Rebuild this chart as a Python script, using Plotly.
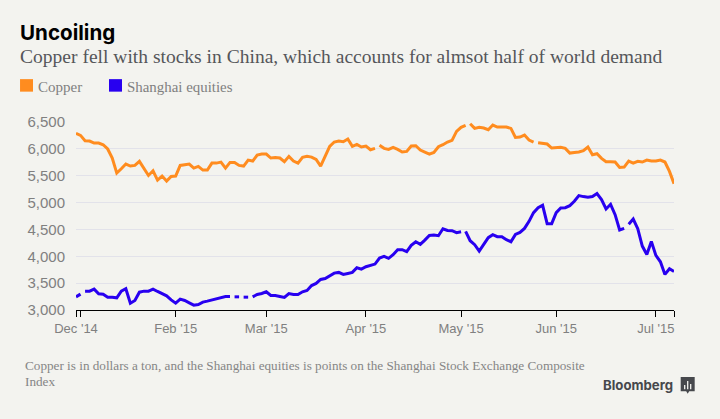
import plotly.graph_objects as go

tick_idx = [0, 1, 22, 42, 64, 85, 106, 128, 132]
tick_text = ["Dec '14", "", "Feb '15", "Mar '15", "Apr '15", "May '15", "Jun '15", "Jul '15", ""]
y_ticks = [3000, 3500, 4000, 4500, 5000, 5500, 6000, 6500]

copper = [6289, 6251, 6152, 6146, 6108, 6108, 6077, 5997, 5829, 5549, 5630, 5717, 5680, 5692, 5767, 5642,
          5505, 5592, 5418, 5493, 5400, 5487, 5493, 5692, 5698, 5717, 5642, 5673, 5605, 5605, 5735, 5735,
          5754, 5642, 5748, 5748, 5692, 5680, 5791, 5773, 5885, 5903, 5903, 5829, 5841, 5829, 5760, 5860,
          5773, 5735, 5841, 5860, 5847, 5804, 5680, 5860, 6046, 6127, 6146, 6133, 6183, 6046, 6084, 6034,
          6053, 5984, 6009, 6065, 6009, 5990, 6028, 5990, 5941, 5953, 6053, 6059, 5978, 5941, 5903, 5934,
          6040, 6077, 6127, 6158, 6325, 6400, 6437, 6468, 6381, 6400, 6388, 6357, 6444, 6406, 6406, 6406,
          6381, 6213, 6219, 6257, 6164, 6127, 6114, 6102, 6090, 6015, 6028, 6028, 6009, 5922, 5934, 5941,
          5966, 6034, 5891, 5910, 5823, 5761, 5761, 5755, 5655, 5661, 5773, 5736, 5767, 5755, 5792, 5773,
          5773, 5792, 5755, 5581, 5351]
shanghai = [3245, 3295, 3351, 3351, 3388, 3301, 3295, 3239, 3239, 3227, 3351, 3395, 3127, 3177, 3332, 3351,
            3351, 3388, 3345, 3307, 3264, 3189, 3127, 3202, 3177, 3134, 3090, 3102, 3146, 3165, 3183, 3208,
            3227, 3251, 3251, 3245, 3245, 3239, 3239, 3245, 3289, 3307, 3339, 3270, 3270, 3251, 3233, 3307,
            3289, 3289, 3339, 3363, 3456, 3494, 3569, 3587, 3631, 3687, 3700, 3662, 3681, 3700, 3787, 3762,
            3805, 3824, 3855, 3967, 3998, 3961, 4029, 4122, 4122, 4085, 4203, 4271, 4222, 4302, 4389, 4395,
            4383, 4513, 4482, 4476, 4439, 4457, 4464, 4290, 4215, 4097, 4222, 4346, 4402, 4364, 4364, 4308,
            4271, 4408, 4445, 4519, 4650, 4812, 4905, 4949, 4607, 4607, 4812, 4899, 4905, 4943, 5024, 5130,
            5111, 5099, 5111, 5167, 5055, 4881, 4968, 4775, 4489, 4520, 4595, 4694, 4514, 4190, 4035, 4277,
            4016, 3898, 3662, 3768, 3718]

copper_breaks = [66, 86, 101]
shanghai_breaks = [1, 34, 36, 38, 85, 121]


def with_gaps(values, breaks):
    xs, ys = [], []
    for i, v in enumerate(values):
        xs.append(i)
        ys.append(v)
        if i in breaks:
            xs.append(i + 0.5)
            ys.append(None)
    return xs, ys


TXT = "#808080"
SERIF = "Liberation Serif"
SANS = "Liberation Sans"
W, H = 720, 419
L, R, T, B = 76, 674.3, 122.3, 310


def px(x):
    return (x - L) / (R - L)


def py(y):
    return (B - y) / (B - T)


fig = go.Figure()
for name, vals, brk, col in [("Copper", copper, copper_breaks, "#ff8c1f"),
                             ("Shanghai equities", shanghai, shanghai_breaks, "#2800f0")]:
    xs, ys = with_gaps(vals, brk)
    fig.add_trace(go.Scatter(x=xs, y=ys, mode="lines", name=name, showlegend=False,
                             connectgaps=False, cliponaxis=False,
                             line=dict(color=col, width=3, shape="linear"),
                             hoverinfo="skip"))

notes = [
    (20, 33, "<b>Uncoiling</b>", 20.6, "#000000", "Inter"),
    (20, 57, "Copper fell with stocks in China, which accounts for almsot half of world demand", 19.55, "#55565a", SERIF),
    (38, 87, "Copper", 15, TXT, SERIF),
    (127, 87, "Shanghai equities", 14.9, TXT, SERIF),
    (25, 365, "Copper is in dollars a ton, and the Shanghai equities is points on the Shanghai Stock Exchange Composite", 13.2, "#858585", SERIF),
    (25, 381, "Index", 13.2, "#858585", SERIF),
    (603, 385, "<b>Bloomberg</b>", 13.2, "#46484c", "Inter"),
]
anns = [dict(x=px(x), y=py(y), xref="paper", yref="paper", text=t, showarrow=False,
             xanchor="left", yanchor="middle", align="left", xshift=-2,
             font=dict(size=s, color=c, family=f)) for x, y, t, s, c, f in notes]

shapes = [
    dict(type="rect", xref="paper", yref="paper", x0=px(20), x1=px(33), y0=py(92), y1=py(79.5),
         fillcolor="#ff8c1f", line_width=0),
    dict(type="rect", xref="paper", yref="paper", x0=px(109), x1=px(122), y0=py(92), y1=py(79.5),
         fillcolor="#2800f0", line_width=0),
    dict(type="path", xref="paper", yref="paper",
         path=f"M {px(681)} {py(377)} L {px(695)} {py(377)} L {px(695)} {py(391)} L {px(689.5)} {py(391)} "
              f"L {px(688)} {py(393.5)} L {px(686.5)} {py(391)} L {px(681)} {py(391)} Z",
         fillcolor="#46484c", line_width=0),
]
for bx, top in [(685, 385), (688, 381), (691, 384)]:
    shapes.append(dict(type="line", xref="paper", yref="paper", x0=px(bx), x1=px(bx), y0=py(389), y1=py(top),
                       line=dict(color="#f3f3ef", width=1.3)))

fig.update_layout(
    width=W, height=H, autosize=False,
    paper_bgcolor="#f3f3ef", plot_bgcolor="#f3f3ef",
    margin=dict(l=L, r=W - R, t=T, b=H - B, pad=0),
    showlegend=False,
    annotations=anns, shapes=shapes,
    xaxis=dict(range=[0, 132], tickmode="array", tickvals=tick_idx, ticktext=tick_text,
               showgrid=False, zeroline=False, showline=True, linecolor="#000000", linewidth=1,
               ticks="outside", ticklen=6, tickwidth=1, tickcolor="#000000",
               tickfont=dict(size=13, color=TXT, family=SANS)),
    yaxis=dict(range=[3000, 6500], tickmode="array", tickvals=y_ticks,
               tickformat=",d", showgrid=True, gridcolor="#e2e2ea", gridwidth=1,
               zeroline=False, showline=False, ticks="", ticklabelstandoff=10,
               tickfont=dict(size=15, color=TXT, family=SANS)),
)

fig.write_html("out.html", config={"displayModeBar": False},
               post_script="document.body.style.margin='0';")
